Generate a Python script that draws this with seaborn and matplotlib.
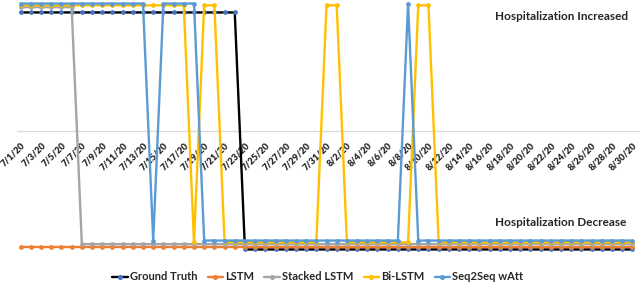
import matplotlib
matplotlib.use('Agg')
import matplotlib.pyplot as plt
import seaborn as sns
import pandas as pd
from matplotlib.lines import Line2D

# 7/1/20 .. 8/30/20, one point per day
dates = pd.date_range('2020-07-01', '2020-08-30')
day_labels = [f'{d.month}/{d.day}/20' for d in dates]

# 1 = hospitalization increased, -1 = decrease
ground_truth = [1, 1, 1, 1, 1, 1, 1, 1, 1, 1, 1, 1, 1, 1, 1, 1, 1, 1, 1, 1, 1, 1,
                -1, -1, -1, -1, -1, -1, -1, -1, -1, -1, -1, -1, -1, -1, -1, -1, -1, -1,
                -1, -1, -1, -1, -1, -1, -1, -1, -1, -1, -1, -1, -1, -1, -1, -1, -1, -1,
                -1, -1, -1]
lstm = [-1, -1, -1, -1, -1, -1, -1, -1, -1, -1, -1, -1, -1, -1, -1, -1, -1, -1, -1, -1,
        -1, -1, -1, -1, -1, -1, -1, -1, -1, -1, -1, -1, -1, -1, -1, -1, -1, -1, -1, -1,
        -1, -1, -1, -1, -1, -1, -1, -1, -1, -1, -1, -1, -1, -1, -1, -1, -1, -1, -1, -1,
        -1]
stacked_lstm = [1, 1, 1, 1, 1, 1,
                -1, -1, -1, -1, -1, -1, -1, -1, -1, -1, -1, -1, -1, -1, -1, -1, -1, -1,
                -1, -1, -1, -1, -1, -1, -1, -1, -1, -1, -1, -1, -1, -1, -1, -1, -1, -1,
                -1, -1, -1, -1, -1, -1, -1, -1, -1, -1, -1, -1, -1, -1, -1, -1, -1, -1,
                -1]
bi_lstm = [1, 1, 1, 1, 1, 1, 1, 1, 1, 1, 1, 1, 1, 1, 1, 1, 1,
           -1, 1, 1,
           -1, -1, -1, -1, -1, -1, -1, -1, -1, -1,
           1, 1,
           -1, -1, -1, -1, -1, -1, -1,
           1, 1,
           -1, -1, -1, -1, -1, -1, -1, -1, -1, -1, -1, -1, -1, -1, -1, -1, -1, -1,
           -1, -1]
seq2seq = [1, 1, 1, 1, 1, 1, 1, 1, 1, 1, 1, 1, 1,
           -1,
           1, 1, 1, 1,
           -1, -1, -1, -1, -1, -1, -1, -1, -1, -1, -1, -1, -1, -1, -1, -1, -1, -1,
           -1, -1,
           1,
           -1, -1, -1, -1, -1, -1, -1, -1, -1, -1, -1, -1, -1, -1, -1, -1, -1, -1,
           -1, -1, -1, -1]

series = {
    'Ground Truth': ground_truth,
    'LSTM': lstm,
    'Stacked LSTM': stacked_lstm,
    'Bi-LSTM': bi_lstm,
    'Seq2Seq wAtt': seq2seq,
}
colors = {'Ground Truth': 'black', 'LSTM': '#ED7D31', 'Stacked LSTM': '#A5A5A5',
          'Bi-LSTM': '#FFC000', 'Seq2Seq wAtt': '#5B9BD5'}
marker_colors = dict(colors, **{'Ground Truth': '#4472C4'})
# small vertical shift so the overlapping lines stay visible
shift = {'Ground Truth': 0, 'LSTM': 0.02, 'Stacked LSTM': 0.045,
         'Bi-LSTM': 0.06, 'Seq2Seq wAtt': 0.075}

sns.set_theme(style='white')
plt.rcParams['font.family'] = ['Lato', 'DejaVu Sans']

fig = plt.figure(figsize=(6.4, 2.85), dpi=100)
ax = fig.add_axes([17 / 640, 0, 1 - 17 / 640, 1])

handles = []
for i, (name, vals) in enumerate(series.items()):
    df = pd.DataFrame({'day': range(len(vals)), 'value': [v + shift[name] for v in vals]})
    sns.lineplot(data=df, x='day', y='value', ax=ax, color=colors[name], linewidth=1.7,
                 marker='o', markersize=2.6, markerfacecolor=marker_colors[name],
                 markeredgecolor=marker_colors[name], zorder=3 + i)
    handles.append(Line2D([], [], color=colors[name], linewidth=1.7, marker='o',
                          markersize=2.6, markerfacecolor=marker_colors[name],
                          markeredgecolor=marker_colors[name], label=name))

ax.set_xlim(-0.36, 60.75)
ax.set_ylim(-1.30, 1.105)
ax.set_xlabel('')
ax.set_ylabel('')
ax.set_yticks([])
for s in ['top', 'right', 'left']:
    ax.spines[s].set_visible(False)
ax.spines['bottom'].set_position(('data', 0))
ax.spines['bottom'].set_color('#D9D9D9')
ax.spines['bottom'].set_linewidth(0.9)
ax.spines['bottom'].set_zorder(1)

ax.set_xticks(range(0, len(day_labels), 2))
ax.set_xticklabels(day_labels[::2], rotation=45, ha='right', va='top',
                   rotation_mode='anchor', fontsize=6.6, fontweight='heavy')
ax.tick_params(axis='x', length=0, pad=7)

fig.text(562 / 640, 1 - 17 / 285, 'Hospitalization Increased', ha='center', va='center',
         fontsize=8.5, fontweight='bold')
fig.text(561 / 640, 1 - 223 / 285, 'Hospitalization Decrease', ha='center', va='center',
         fontsize=8.5, fontweight='bold')

fig.legend(handles=handles, loc='center', bbox_to_anchor=(318 / 640, 1 - 277 / 285),
           ncol=5, frameon=False, handlelength=1.4, handletextpad=0.2,
           columnspacing=0.9, prop={'weight': 'bold', 'size': 8})

fig.savefig('out.png', dpi=100)
